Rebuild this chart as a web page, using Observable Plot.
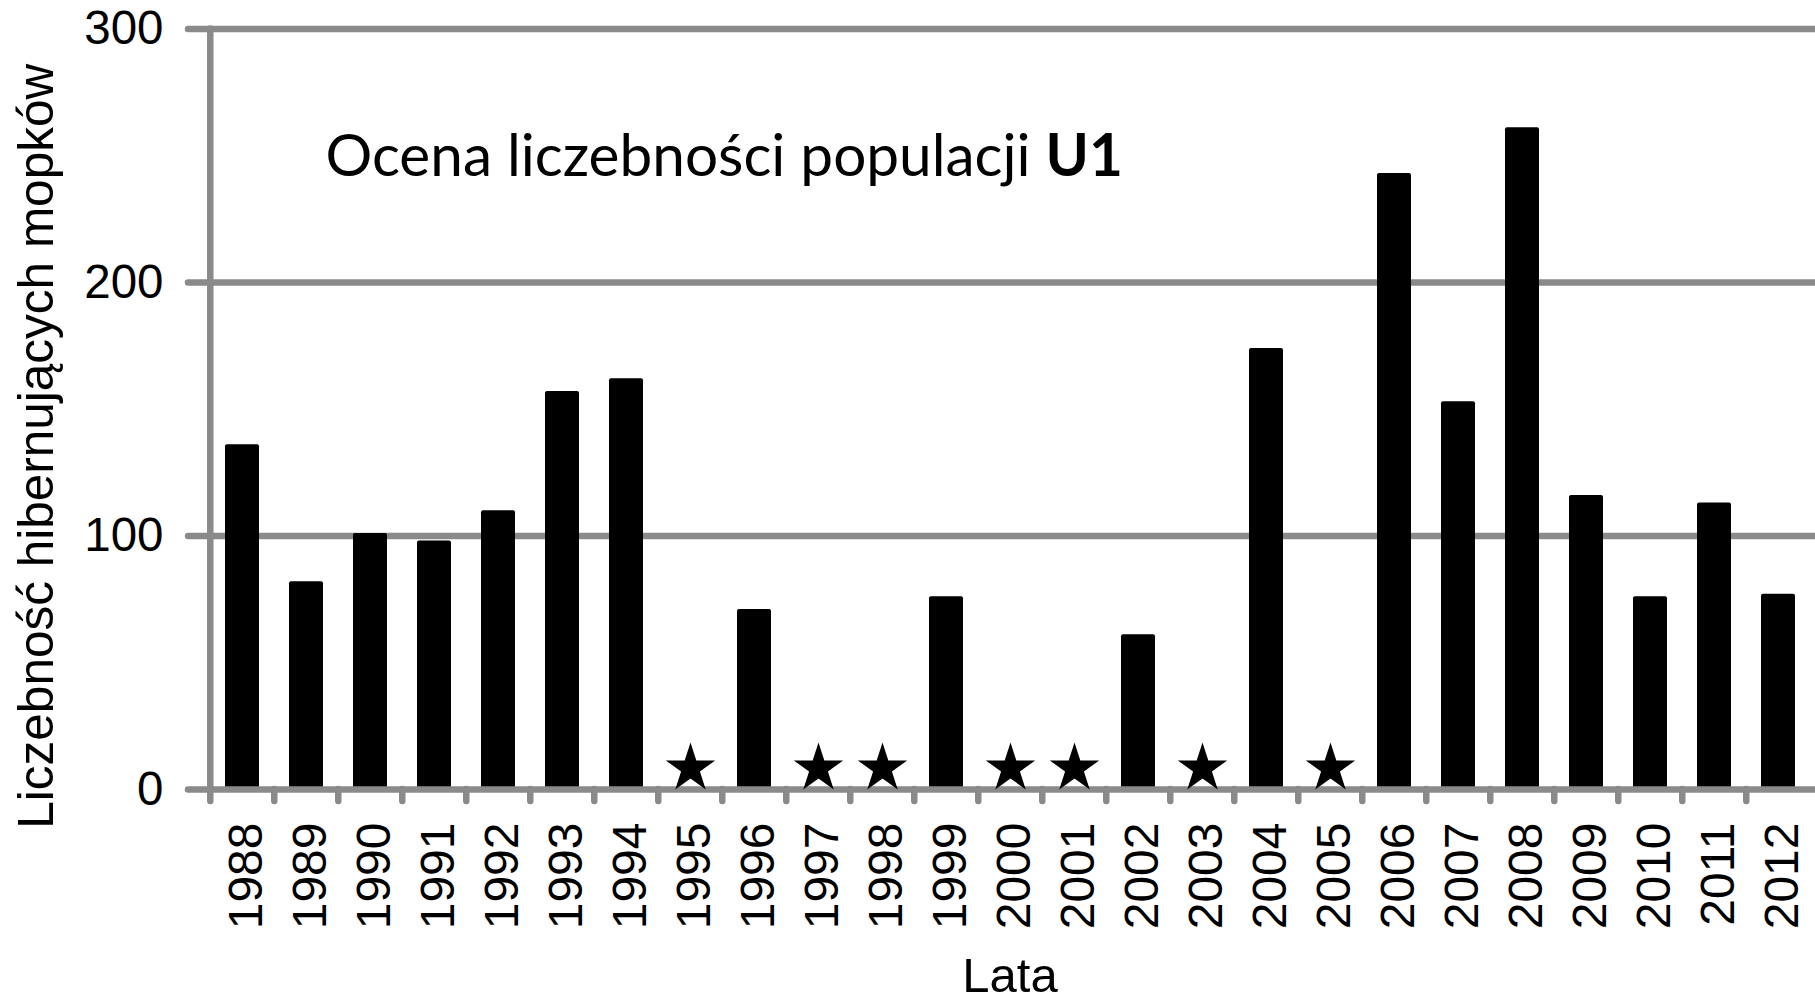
<!DOCTYPE html>
<html>
<head>
<meta charset="utf-8">
<script src="https://cdn.jsdelivr.net/npm/d3@7"></script>
<script src="https://cdn.jsdelivr.net/npm/@observablehq/plot@0.6"></script>
<style>
  html, body { margin: 0; padding: 0; background: #fff; }
  #chart svg { display: block; }
</style>
</head>
<body>
<div id="chart"></div>
<script>
// ---- data ----
const years = ["1988","1989","1990","1991","1992","1993","1994","1995","1996","1997","1998","1999","2000",
               "2001","2002","2003","2004","2005","2006","2007","2008","2009","2010","2011","2012"];
// null = no count that year (marked with a star)
const counts = [136, 82, 101, 98, 110, 157, 162, null, 71, null, null, 76, null,
                null, 61, null, 174, null, 243, 153, 261, 116, 76, 113, 77];
const yTicks = [0, 100, 200, 300];
const titleText = "Ocena liczebności populacji";
const titleBold = "U1";
const yLabel = "Liczebność hibernujących mopków";
const xLabel = "Lata";

// ---- layout ----
const W = 1815, H = 1002;
const mL = 204, mR = 0, mT = 28.5, mB = 213;
const step = (W - mL - mR) / years.length;
const gray = "#8a8a8a";
const lineW = 6.5;

const rows = years.map((year, i) => ({year, count: counts[i]}));
const bars = rows.filter(d => d.count != null);
const stars = rows.filter(d => d.count == null);

const chart = Plot.plot({
  width: W, height: H,
  marginLeft: mL, marginRight: mR, marginTop: mT, marginBottom: mB,
  style: {fontFamily: "'Liberation Sans', Arial, sans-serif", fontSize: "48px", color: "#000", background: "#fff"},
  x: {type: "band", domain: years, paddingInner: 0.47, paddingOuter: 0.235, align: 0.5},
  y: {domain: [0, 300]},
  marks: [
    Plot.ruleY(yTicks.filter(v => v > 0), {stroke: gray, strokeWidth: lineW, insetLeft: -16, strokeLinecap: "round"}),
    Plot.ruleX(years.slice(0, 1), {x: d => d, dx: -step / 2, insetBottom: -12, stroke: gray, strokeWidth: lineW, strokeLinecap: "round"}),
    Plot.ruleX(years.slice(1), {x: d => d, y1: 0, y2: 0, dx: -step / 2, insetBottom: -12, stroke: gray, strokeWidth: lineW, strokeLinecap: "round"}),
    Plot.barY(bars, {x: "year", y: "count", fill: "#000", rx: 2}),
    Plot.ruleY([0], {stroke: gray, strokeWidth: lineW, insetLeft: -16, strokeLinecap: "round"}),
    Plot.dot(stars, {x: "year", y: 0, symbol: "star", r: 15.5, fill: "#000", stroke: "none", dy: -21}),
    Plot.axisX({tickSize: 0, tickPadding: 33, tickRotate: -90, label: null, fontSize: 48, dx: 4}),
    Plot.axisY(yTicks, {tickSize: 0, tickPadding: 41, label: null, fontSize: 47.5}),
    Plot.text([yLabel], {text: d => d, frameAnchor: "left", rotate: -90, lineAnchor: "bottom", textAnchor: "middle", dx: -152, dy: 37, fontSize: 49.5}),
    Plot.text([xLabel], {text: d => d, frameAnchor: "bottom", lineAnchor: "bottom", textAnchor: "middle", dy: 202, fontSize: 49}),
    Plot.text([titleText], {text: d => d, frameAnchor: "top-left", textAnchor: "start", lineAnchor: "bottom", dx: 121, dy: 146.5, fontSize: 58.5, fontFamily: "Lato"})
  ]
});

// make "U1" bold within the title
chart.querySelectorAll("text").forEach(t => {
  if (t.textContent === titleText) {
    t.textContent = "";
    const a = document.createElementNS("http://www.w3.org/2000/svg", "tspan");
    a.textContent = titleText + " ";
    a.setAttribute("style", "white-space: pre");
    const b = document.createElementNS("http://www.w3.org/2000/svg", "tspan");
    b.textContent = titleBold;
    b.setAttribute("font-weight", "bold");
    t.appendChild(a);
    t.appendChild(b);
  }
});

document.getElementById("chart").appendChild(chart);
</script>
</body>
</html>
